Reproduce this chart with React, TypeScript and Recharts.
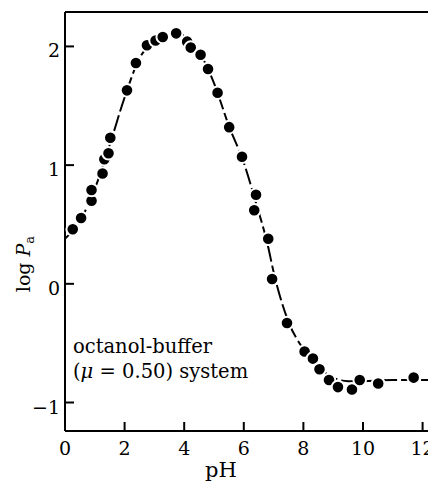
import {
  ComposedChart, Line, Scatter, XAxis, YAxis, ReferenceLine,
} from "recharts";

// measured partition coefficients
const measuredPh = [
  0.26, 0.54, 0.89, 0.89, 1.26, 1.32, 1.46, 1.52, 2.08, 2.38, 2.75, 3.04,
  3.28, 3.73, 4.1, 4.22, 4.55, 4.8, 5.12, 5.51, 5.94, 6.41, 6.35, 6.82,
  6.95, 7.45, 8.04, 8.32, 8.54, 8.86, 9.16, 9.63, 9.89, 10.51, 11.7,
];
const measuredLogP = [
  0.46, 0.555, 0.7, 0.79, 0.93, 1.05, 1.1, 1.23, 1.63, 1.86, 2.01, 2.05,
  2.08, 2.11, 2.04, 1.99, 1.93, 1.81, 1.61, 1.32, 1.07, 0.75, 0.62, 0.38,
  0.04, -0.33, -0.57, -0.63, -0.72, -0.81, -0.87, -0.89, -0.81, -0.84, -0.79,
];

// fitted curve, hand-traced
const fitPh = [
  0, 0.5, 1, 1.5, 2, 2.5, 3, 3.5, 3.8, 4.2, 4.6, 5, 5.5, 6, 6.4, 6.8, 7,
  7.5, 8, 8.5, 9, 9.5, 10, 11, 12.45,
];
const fitLogP = [
  0.38, 0.53, 0.8, 1.17, 1.57, 1.9, 2.05, 2.1, 2.11, 2.04, 1.91, 1.69, 1.33,
  1.02, 0.69, 0.33, 0.1, -0.32, -0.55, -0.7, -0.79, -0.82, -0.82, -0.81, -0.81,
];

const phTicks = [0, 2, 4, 6, 8, 10, 12];
const logPTicks = [-1, 0, 1, 2];

const points = measuredPh.map((ph, i) => ({ ph, logP: measuredLogP[i] }));
const curve = fitPh.map((ph, i) => ({ ph, logP: fitLogP[i] }));

const FONT = "'DejaVu Serif', 'Liberation Serif', serif";

function fmtNum(v: number) {
  return v < 0 ? `\u2212${Math.abs(v)}` : String(v);
}

// ticks point inward, labels sit outside
function XTick({ x, y, payload }: any) {
  return (
    <g>
      <line x1={x} x2={x} y1={y} y2={y - 9} stroke="#000" strokeWidth={2} />
      <text x={x} y={y + 24} textAnchor="middle" fontFamily={FONT} fontSize={19} fill="#000">
        {payload.value}
      </text>
    </g>
  );
}

function YTick({ x, y, payload }: any) {
  return (
    <g>
      <line x1={x} x2={x + 9} y1={y} y2={y} stroke="#000" strokeWidth={2} />
      <text x={x - 5} y={y + 11} textAnchor="end" fontFamily={FONT} fontSize={19} fill="#000">
        {fmtNum(payload.value)}
      </text>
    </g>
  );
}

function Dot({ cx, cy }: any) {
  return <circle cx={cx} cy={cy} r={6.3} fill="#000" stroke="#fff" strokeWidth={2} />;
}

export default function App() {
  return (
    <div style={{ fontFamily: FONT }}>
      <ComposedChart width={428} height={478} margin={{ top: 4, right: 0, bottom: 0, left: 0 }}>
        <XAxis
          type="number"
          dataKey="ph"
          domain={[0, 12.45]}
          ticks={phTicks}
          tick={<XTick />}
          tickLine={false}
          tickSize={0}
          tickMargin={0}
          height={55}
          axisLine={{ stroke: "#000", strokeWidth: 2 }}
          allowDataOverflow
        />
        <YAxis
          type="number"
          dataKey="logP"
          domain={[-1.24, 2.29]}
          ticks={logPTicks}
          tick={<YTick />}
          tickLine={false}
          tickSize={0}
          tickMargin={0}
          width={57}
          axisLine={{ stroke: "#000", strokeWidth: 2 }}
          allowDataOverflow
        />
        <ReferenceLine y={2.29} stroke="#000" strokeWidth={2} ifOverflow="extendDomain" />
        <Line
          data={curve}
          dataKey="logP"
          type="monotone"
          stroke="#000"
          strokeWidth={2}
          strokeDasharray="16 4"
          dot={false}
          activeDot={false}
          isAnimationActive={false}
        />
        <Scatter data={points} dataKey="logP" shape={<Dot />} isAnimationActive={false} />

        <text x={22} y={256} transform="rotate(-90 22 256)" textAnchor="middle" fontFamily={FONT} fontSize={19} fill="#000">
          log <tspan fontStyle="italic">P</tspan>
          <tspan fontSize={13} dy={4}>a</tspan>
        </text>
        <text x={213} y={469} textAnchor="middle" fontFamily={FONT} fontSize={21} fill="#000">pH</text>
        <text x={65} y={345} fontFamily={FONT} fontSize={19.5} fill="#000">octanol-buffer</text>
        <text x={65} y={370} fontFamily={FONT} fontSize={19.5} fill="#000">
          (<tspan fontStyle="italic">μ</tspan> = 0.50) system
        </text>
      </ComposedChart>
    </div>
  );
}
